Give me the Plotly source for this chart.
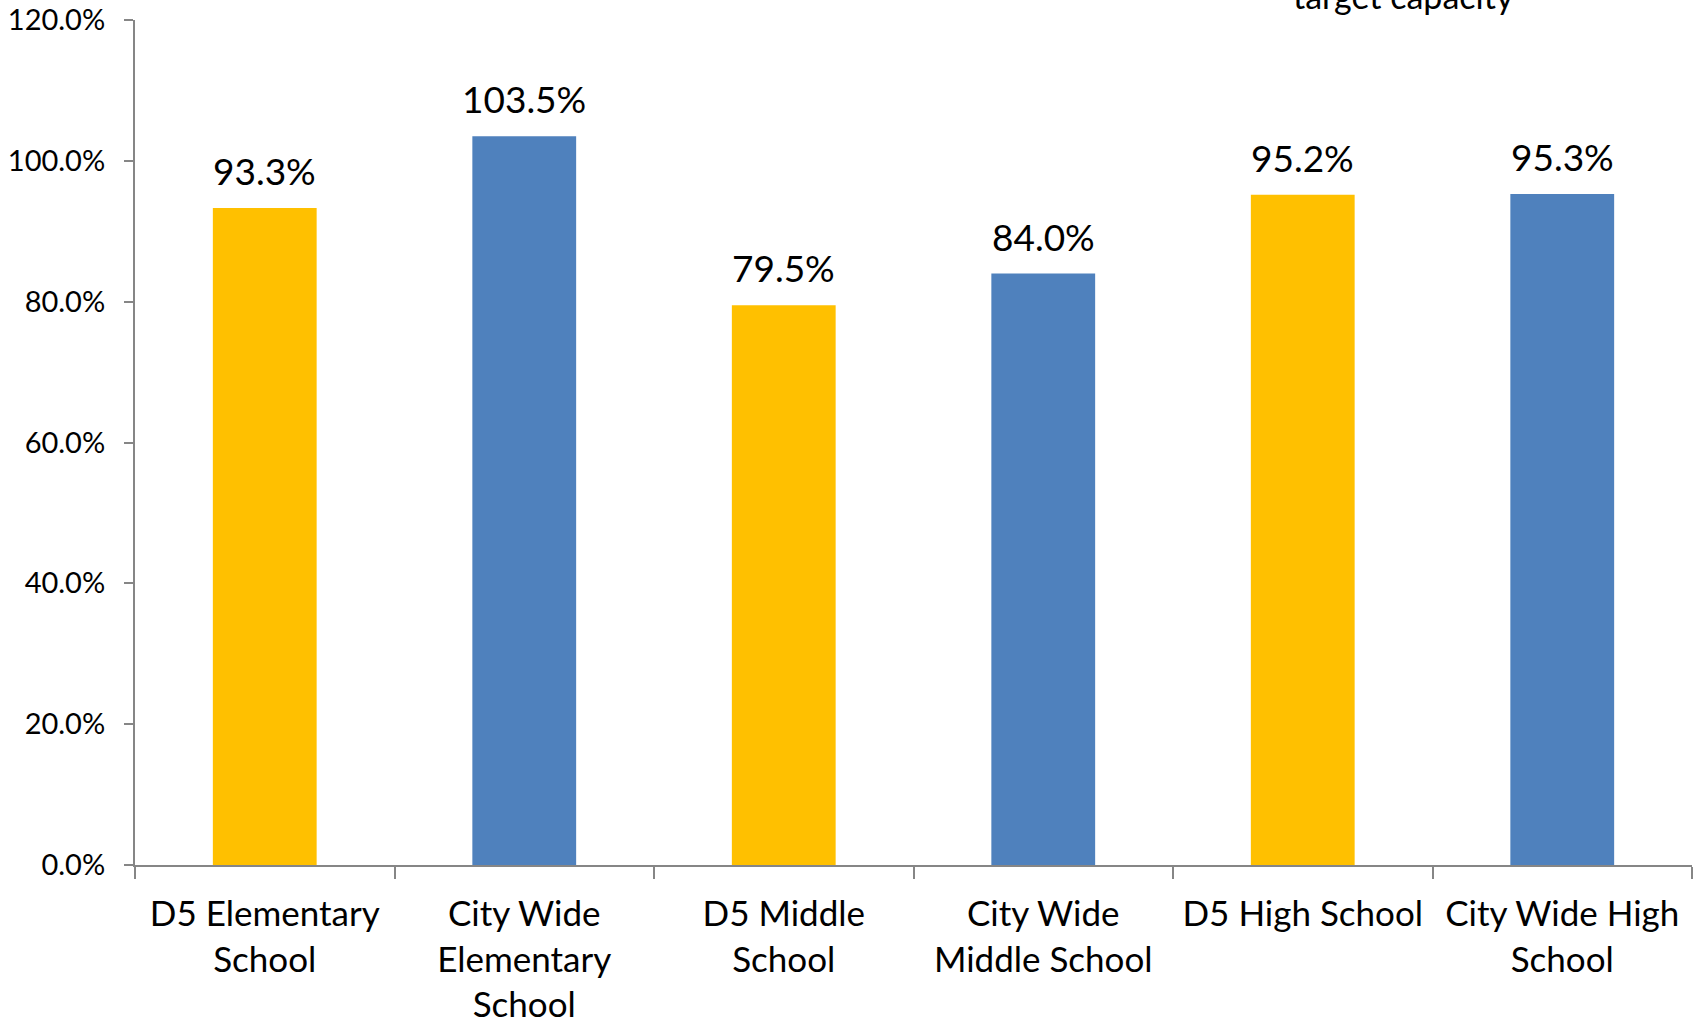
import plotly.graph_objects as go

categories = ["D5 Elementary<br>School", "City Wide<br>Elementary<br>School", "D5 Middle<br>School",
              "City Wide<br>Middle School", "D5 High School", "City Wide High<br>School"]
values = [0.933, 1.035, 0.795, 0.840, 0.952, 0.953]
colors = ["#FFC000", "#4F81BD", "#FFC000", "#4F81BD", "#FFC000", "#4F81BD"]
y_ticks = [0, 0.2, 0.4, 0.6, 0.8, 1.0, 1.2]

FONT = "Lato"

fig = go.Figure()
fig.add_trace(go.Bar(x=categories, y=values, marker=dict(color=colors, line=dict(width=0)),
                     width=0.4, hoverinfo="skip"))

for c, v in zip(categories, values):
    fig.add_annotation(x=c, y=v, text=f"{v*100:.1f}%", showarrow=False, yanchor="bottom",
                       yshift=13, font=dict(family=FONT, size=37, color="#000000"))

fig.add_annotation(x=0.815, xref="paper", xanchor="center", y=1, yref="paper", yanchor="bottom",
                   yshift=2, text="target capacity", showarrow=False,
                   font=dict(family=FONT, size=34, color="#000000"))

fig.update_layout(
    width=1696, height=1019,
    margin=dict(l=135, r=4, t=20, b=154, autoexpand=False),
    plot_bgcolor="white", paper_bgcolor="white",
    showlegend=False,
    font=dict(family=FONT, color="#000000"),
)
fig.update_yaxes(range=[0, 1.2], tickvals=y_ticks, tickformat=".1%", showgrid=False,
                 showline=True, linecolor="#868686", linewidth=2, ticks="outside",
                 ticklen=9, tickcolor="#868686", tickwidth=2, automargin=False,
                 ticklabelstandoff=13,
                 tickfont=dict(family=FONT, size=29, color="#000000"), zeroline=False)
fig.update_xaxes(showline=True, linecolor="#868686", linewidth=2, ticks="outside",
                 tickson="boundaries", ticklen=12, tickcolor="#868686", tickwidth=2,
                 tickfont=dict(family=FONT, size=35, color="#000000"), tickangle=0,
                 ticklabelstandoff=17, automargin=False)

fig.write_html("out.html", config={"displayModeBar": False},
               post_script="document.body.style.margin='0';document.body.style.overflow='hidden';")
